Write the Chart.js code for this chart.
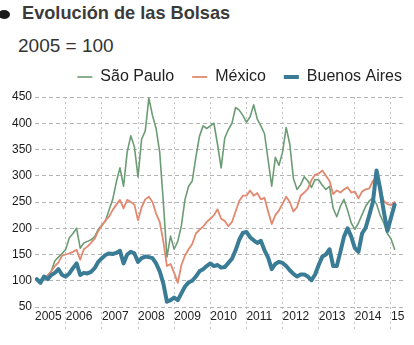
<!DOCTYPE html>
<html>
<head>
<meta charset="utf-8">
<script src="https://cdn.jsdelivr.net/npm/chart.js@4.4.0/dist/chart.umd.min.js"></script>
<style>
  html, body { margin: 0; padding: 0; background: #fff; }
  #wrap { position: relative; width: 414px; height: 345px; overflow: hidden; font-family: Arial, "Liberation Sans", sans-serif; }
  #bullet { position: absolute; left: -2px; top: 10px; width: 12px; height: 9px; border-radius: 50%; background: #1a1a1a; }
  #titulo { position: absolute; left: 22px; top: 3px; font-size: 18.2px; font-weight: bold; color: #3b3b3b; }
  #subtitulo { position: absolute; left: 18px; top: 35px; font-size: 19px; color: #333; }
  canvas { position: absolute; left: 0; top: 0; }
</style>
</head>
<body>
<div id="wrap">
  <div id="bullet"></div>
  <div id="titulo">Evolución de las Bolsas</div>
  <div id="subtitulo">2005 = 100</div>
  <canvas id="grafico" width="414" height="345"></canvas>
</div>
<script>
// fechas en años decimales (una lectura cada ~0,1 año)
const fechas = [
  2005.2, 2005.3, 2005.4, 2005.5, 2005.6, 2005.7, 2005.8, 2005.9,
  2006.0, 2006.1, 2006.2, 2006.3, 2006.4, 2006.5, 2006.6, 2006.7, 2006.8, 2006.9,
  2007.0, 2007.1, 2007.2, 2007.3, 2007.4, 2007.5, 2007.6, 2007.7, 2007.8, 2007.9,
  2008.0, 2008.1, 2008.2, 2008.3, 2008.4, 2008.5, 2008.6, 2008.7, 2008.8, 2008.9,
  2009.0, 2009.1, 2009.2, 2009.3, 2009.4, 2009.5, 2009.6, 2009.7, 2009.8, 2009.9,
  2010.0, 2010.1, 2010.2, 2010.3, 2010.4, 2010.5, 2010.6, 2010.7, 2010.8, 2010.9,
  2011.0, 2011.1, 2011.2, 2011.3, 2011.4, 2011.5, 2011.6, 2011.7, 2011.8, 2011.9,
  2012.0, 2012.1, 2012.2, 2012.3, 2012.4, 2012.5, 2012.6, 2012.7, 2012.8, 2012.9,
  2013.0, 2013.1, 2013.2, 2013.3, 2013.4, 2013.5, 2013.6, 2013.7, 2013.8, 2013.9,
  2014.0, 2014.1, 2014.2, 2014.3, 2014.4, 2014.5, 2014.6, 2014.7, 2014.8, 2014.9,
  2015.0, 2015.1
];

const saoPaulo = [
  102, 100, 106, 110, 118, 138, 145, 152,
  160, 182, 190, 200, 162, 172, 175, 178, 184, 198,
  206, 214, 235, 255, 288, 315, 280, 345, 376, 355,
  298, 370, 385, 448, 415, 390, 345, 250, 145, 185,
  160, 175, 205, 255, 280, 290, 335, 375, 395, 390,
  395, 400, 360, 315, 372, 388, 400, 430, 425, 415,
  402, 412, 435, 408, 395, 380, 330, 280, 335, 320,
  345, 392, 360, 295, 274, 283, 298, 290, 278, 293,
  292, 282, 274, 280, 238, 222, 242, 255, 234, 210,
  198, 210, 226, 242, 252, 258, 246, 225, 210, 190,
  180, 160
];

const mexico = [
  102, 100, 106, 110, 118, 128, 135, 148,
  150, 152, 155, 159, 140, 160, 165, 172, 180, 195,
  205, 215, 222, 235, 245, 254, 238, 254, 250, 245,
  215, 240, 255, 260, 250, 228, 212, 175, 128, 132,
  115, 96, 130, 148, 160, 170, 190, 197, 203, 212,
  218, 225, 236, 218, 214, 204, 212, 232, 252, 262,
  262, 272, 262, 267, 255, 258, 232, 208, 225, 234,
  247, 260, 250, 232, 240, 262, 268, 275, 292, 302,
  304, 310, 300, 290, 265, 272, 268, 274, 278, 268,
  270, 257, 270, 274, 276, 290, 296, 276, 252, 246,
  244, 250
];

const buenosAires = [
  103, 96, 108, 103, 111, 115, 122, 111,
  108, 114, 124, 133, 111, 115, 114, 117, 124, 136,
  143, 149, 152, 151, 153, 157, 133, 150, 155, 152,
  136, 143, 146, 145, 143, 133, 118, 95, 60, 63,
  68, 63, 76, 89, 97, 100, 108, 118, 122, 128,
  133, 128, 130, 125, 126, 134, 142, 158, 178, 191,
  193, 183, 177, 172, 176, 158, 144, 122, 132, 136,
  134, 128, 120, 113, 108, 112, 112, 108, 101, 112,
  130, 146, 150, 160, 128, 128, 155, 184, 200, 184,
  162, 155, 190, 201, 225, 250, 310, 275, 232, 195,
  220, 245
];

const anios = [2005, 2006, 2007, 2008, 2009, 2010, 2011, 2012, 2013, 2014, 2015];
const etiquetasAnios = ["2005", "2006", "2007", "2008", "2009", "2010", "2011", "2012", "2013", "2014", "15"];

const xMin = 2005.15;
const xMax = 2015.36;

function puntos(valores) {
  return fechas.map((f, i) => ({ x: f, y: valores[i] }));
}

const fuente = "Arial, 'Liberation Sans', sans-serif";
const transparente = "rgba(0,0,0,0)";

// mueve la leyenda hacia la derecha/arriba sin tocar el área del gráfico
const moverLeyenda = {
  id: "moverLeyenda",
  afterLayout(chart) {
    const lg = chart.legend;
    if (!lg) return;
    lg.left += 16; lg.right += 16;
    lg.top -= 2; lg.bottom -= 2;
  }
};

const ctx = document.getElementById("grafico").getContext("2d");
new Chart(ctx, {
  type: "line",
  data: {
    datasets: [
      { label: "São Paulo", data: puntos(saoPaulo), borderColor: "#6c9c74", borderWidth: 1.6, order: 2 },
      { label: "México", data: puntos(mexico), borderColor: "#e3886f", borderWidth: 1.8, order: 1 },
      { label: "Buenos Aires", data: puntos(buenosAires), borderColor: "#3a7c96", borderWidth: 4, order: 0 }
    ]
  },
  options: {
    responsive: false,
    animation: false,
    elements: {
      point: { radius: 0 },
      line: { tension: 0, borderJoinStyle: "round", borderCapStyle: "round" }
    },
    layout: { padding: { top: 53, left: 9, right: 10, bottom: 2 } },
    plugins: {
      tooltip: { enabled: false },
      legend: {
        position: "top",
        align: "end",
        labels: {
          usePointStyle: true,
          pointStyle: "line",
          pointStyleWidth: 15,
          boxHeight: 16,
          padding: 18,
          color: "#222",
          font: { family: fuente, size: 16 },
          sort: (a, b) => a.datasetIndex - b.datasetIndex
        }
      }
    },
    scales: {
      x: {
        type: "linear",
        min: xMin,
        max: xMax,
        afterBuildTicks: (axis) => {
          axis.ticks = anios.map((a, i) => ({ value: i === 0 ? xMin : a }));
        },
        afterFit: (axis) => { axis.height = 36; },
        border: { display: false, dash: [2, 3] },
        grid: {
          color: (c) => (c.index === 0 ? transparente : "#c4c4c4"),
          tickColor: (c) => (c.index === 0 ? transparente : "#c4c4c4"),
          tickLength: 25,
          tickBorderDash: [2, 3]
        },
        ticks: {
          autoSkip: false,
          maxRotation: 0,
          align: "start",
          padding: -23,
          color: "#222",
          font: { family: fuente, size: 12 },
          callback: (v, i) => etiquetasAnios[i]
        }
      },
      y: {
        min: 50,
        max: 450,
        border: { display: false, dash: [4, 3] },
        grid: { color: "#b4b4b4", drawTicks: false },
        ticks: {
          stepSize: 50,
          padding: 3,
          color: "#1a1a1a",
          font: { family: fuente, size: 12 }
        }
      }
    }
  },
  plugins: [moverLeyenda]
});
</script>
</body>
</html>
